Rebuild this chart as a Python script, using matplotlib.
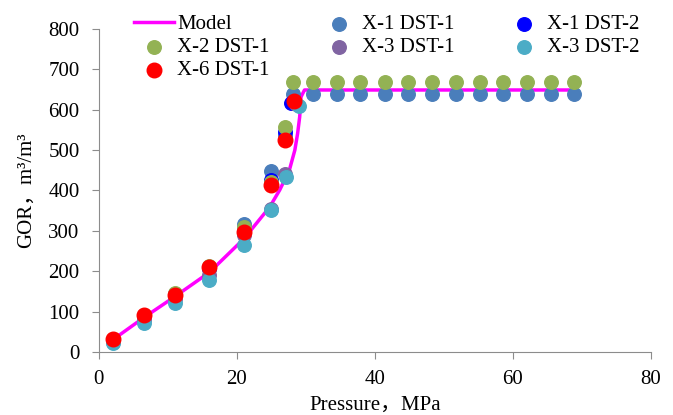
import matplotlib.pyplot as plt

plt.rcParams['font.family'] = ['Liberation Serif', 'Noto Sans CJK SC']

# model curve
model_p = [2, 6.5, 11, 16, 21, 24.75, 26.2, 27.6, 28.4, 28.8, 29.1, 29.3, 29.8, 30.5, 69]
model_gor = [30, 85, 137, 197, 280, 359, 401, 450, 500, 541, 582, 632, 649, 649, 649]

flat_p = [31.0, 34.5, 37.9, 41.4, 44.8, 48.3, 51.7, 55.2, 58.6, 62.1, 65.5, 68.9]

x1d1_p = [2, 6.5, 11, 16, 21, 25, 27, 28.2] + flat_p
x1d1_gor = [28, 88, 140, 205, 318, 448, 536, 638] + [638] * len(flat_p)

x1d2_p = [2, 6.5, 11, 16, 21, 25, 27, 27.8]
x1d2_gor = [30, 90, 143, 208, 305, 425, 545, 617]

x2d1_p = [2, 6.5, 11, 16, 21, 25, 27, 28.2] + flat_p
x2d1_gor = [32, 92, 147, 213, 310, 420, 558, 669] + [669] * len(flat_p)

x3d1_p = [2, 6.5, 11, 16, 21, 25, 27, 28.5]
x3d1_gor = [25, 80, 130, 190, 290, 355, 440, 615]

x3d2_p = [2, 6.5, 11, 16, 21, 25, 27.1, 29]
x3d2_gor = [21, 72, 120, 178, 264, 351, 434, 610]

x6d1_p = [2, 6.5, 11, 16, 21, 25, 27, 28.3]
x6d1_gor = [33, 91, 142, 211, 297, 413, 525, 622]

fig = plt.figure(figsize=(6.73, 4.15), dpi=100)
ax = fig.add_axes([0.147, 0.152, 0.82, 0.778])

ms = 95
h_model, = ax.plot(model_p, model_gor, color='#FF00FF', lw=2.5, label='Model', zorder=2)
h1 = ax.scatter(x1d1_p, x1d1_gor, s=ms, color='#4A7EBB', label='X-1 DST-1', zorder=3)
h2 = ax.scatter(x1d2_p, x1d2_gor, s=ms, color='#0000FF', label='X-1 DST-2', zorder=3)
h3 = ax.scatter(x2d1_p, x2d1_gor, s=ms, color='#93B254', label='X-2 DST-1', zorder=3)
h4 = ax.scatter(x3d1_p, x3d1_gor, s=ms, color='#8064A2', label='X-3 DST-1', zorder=3)
h5 = ax.scatter(x3d2_p, x3d2_gor, s=ms, color='#4BACC6', label='X-3 DST-2', zorder=3)
h6 = ax.scatter(x6d1_p, x6d1_gor, s=ms + 15, color='#FF0000', label='X-6 DST-1', zorder=3)

ax.set_xlim(0, 80)
ax.set_ylim(0, 800)
ax.set_xticks([0, 20, 40, 60, 80])
ax.set_yticks(range(0, 801, 100))
for s in ['top', 'right']:
    ax.spines[s].set_visible(False)
for s in ['left', 'bottom']:
    ax.spines[s].set_color('#8C8C8C')
ax.tick_params(colors='#8C8C8C', labelcolor='black', labelsize=15, length=5, direction='out')
ax.tick_params(axis='y', pad=9)
ax.tick_params(axis='x', pad=8)

ax.set_xlabel('Pressure，MPa', fontsize=15, labelpad=5)
ax.set_ylabel('GOR，m³/m³', fontsize=15, labelpad=9)

handles = [h_model, h3, h6, h1, h4, h2, h5]
labels = [h.get_label() for h in handles]
fig.legend(handles, labels, loc='upper left', bbox_to_anchor=(0.178, 1.0), ncol=3,
           frameon=False, fontsize=15, handlelength=1.9, handletextpad=0.15,
           columnspacing=2.4, labelspacing=0.17, borderpad=0.2)

fig.savefig('out.png', dpi=100)
